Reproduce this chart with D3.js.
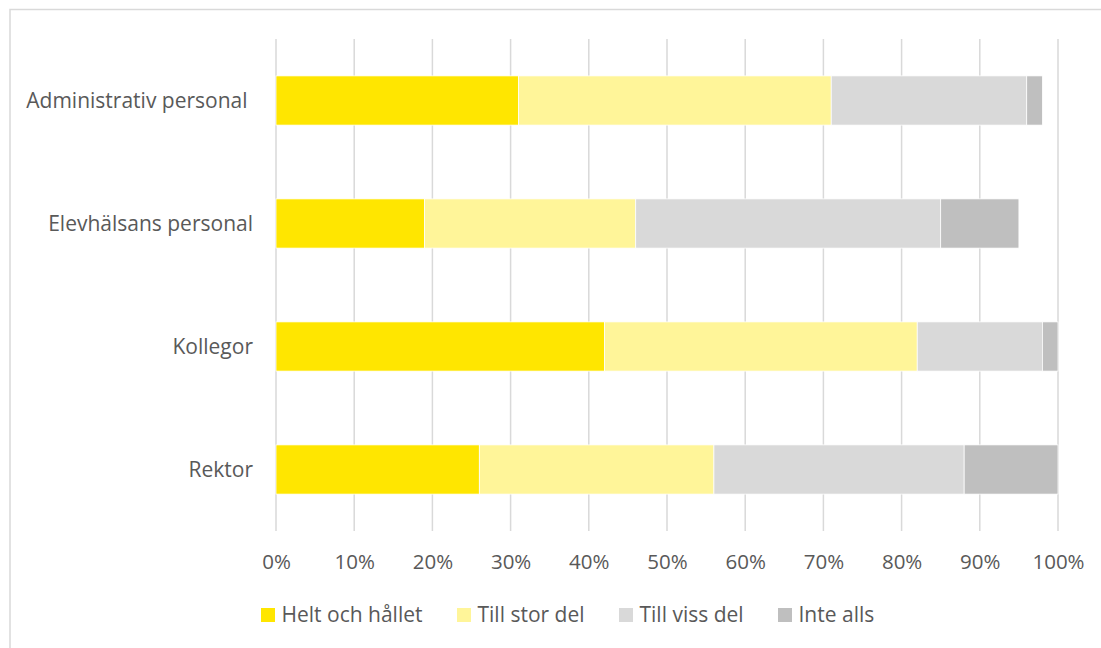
<!DOCTYPE html>
<html><head><meta charset="utf-8">
<script src="https://cdn.jsdelivr.net/npm/d3@7/dist/d3.min.js"></script>
<style>
html,body{margin:0;padding:0;background:#fff;}
svg text{font-family:"Open Sans",sans-serif;fill:#595959;white-space:pre;}
</style></head>
<body><svg id="chart" width="1101" height="648"></svg>
<script>
const categories = ["Administrativ personal ", "Elevhälsans personal", "Kollegor", "Rektor"];
const seriesNames = ["Helt och hållet", "Till stor del", "Till viss del", "Inte alls"];
const seriesColors = ["#FFE600", "#FFF599", "#D9D9D9", "#BFBFBF"];
const heltOchHallet = [31, 19, 42, 26];
const tillStorDel = [40, 27, 40, 30];
const tillVissDel = [25, 39, 16, 32];
const inteAlls = [2, 10, 2, 12];
const tickValues = [0,10,20,30,40,50,60,70,80,90,100];

const seriesValues = [heltOchHallet, tillStorDel, tillVissDel, inteAlls];
const rows = categories.map((c,i)=>{
  const r = {cat:c};
  seriesNames.forEach((s,j)=> r[s] = seriesValues[j][i]);
  return r;
});

const svg = d3.select("#chart");
svg.append("rect").attr("x",10).attr("y",9.5).attr("width",1200).attr("height",800)
  .attr("fill","none").attr("stroke","#d9d9d9").attr("stroke-width",1.5);

const x = d3.scaleLinear().domain([0,100]).range([276,1058]);
const y = d3.scaleBand().domain(categories).range([39,531]).paddingInner(0.6).paddingOuter(0.3);

// gridlines
svg.append("g").selectAll("line").data(tickValues).join("line")
  .attr("x1",d=>x(d)).attr("x2",d=>x(d)).attr("y1",39).attr("y2",531)
  .attr("stroke","#d9d9d9").attr("stroke-width",1.5);

const stack = d3.stack().keys(seriesNames)(rows);
svg.append("g").selectAll("g").data(stack).join("g")
  .attr("fill",(d,i)=>seriesColors[i])
  .selectAll("rect").data(d=>d).join("rect")
  .attr("x",d=>x(d[0])).attr("width",d=>x(d[1])-x(d[0]))
  .attr("y",d=>y(d.data.cat)).attr("height",y.bandwidth())
  .attr("stroke","#ffffff").attr("stroke-width",0.75);

// x axis labels
const xAxis = d3.axisBottom(x).tickValues(tickValues).tickFormat(d=>d+"%").tickSize(0).tickPadding(0);
const gx = svg.append("g").attr("transform","translate(0,569)").call(xAxis);
gx.select(".domain").remove();
gx.selectAll("text").attr("font-size","20.5px").attr("dy","0").attr("y",0).style("fill","#595959");

// y axis labels
const yAxis = d3.axisLeft(y).tickSize(0).tickPadding(0);
const gy = svg.append("g").attr("transform","translate(253,0)").call(yAxis);
gy.select(".domain").remove();
gy.selectAll("text").attr("font-size","21px").attr("dy","0.36em").style("fill","#595959");

// legend
const legendX = [261, 457, 619, 778];
const lg = svg.append("g").selectAll("g").data(seriesNames).join("g")
  .attr("transform",(d,i)=>`translate(${legendX[i]},608)`);
lg.append("rect").attr("width",14).attr("height",14).attr("fill",(d,i)=>seriesColors[i]);
lg.append("text").attr("x",20.5).attr("y",14).attr("font-size","21px").text(d=>d);
</script></body></html>
